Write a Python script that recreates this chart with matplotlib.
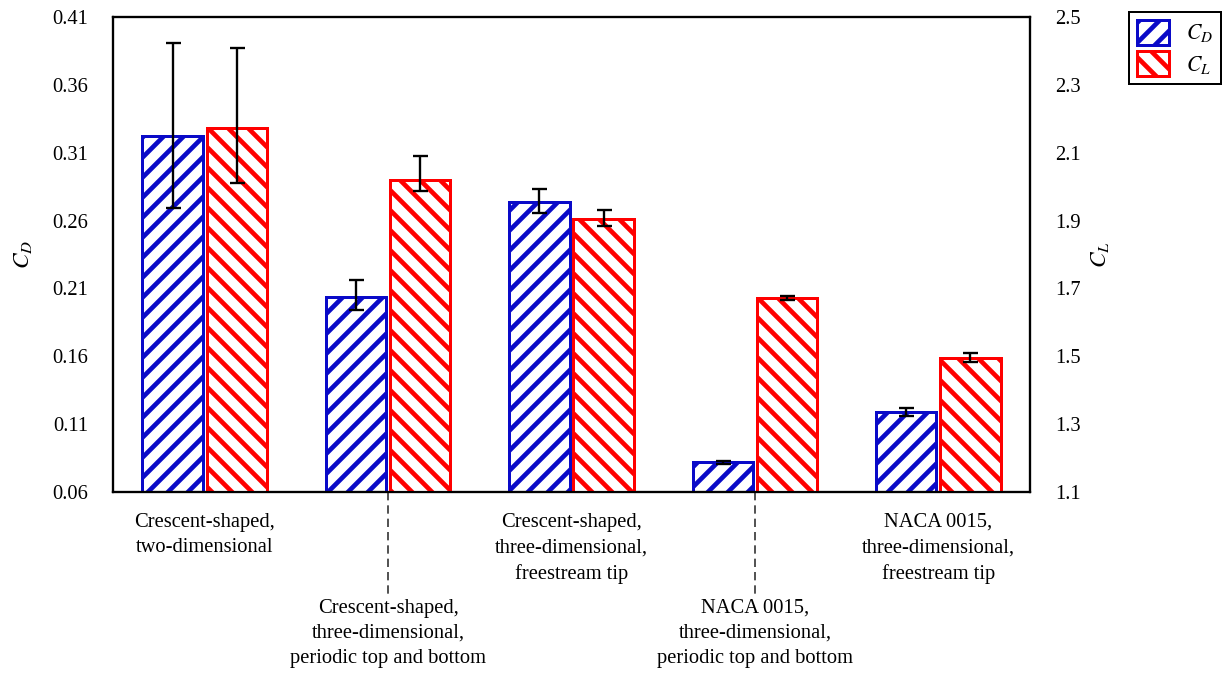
import numpy as np
import matplotlib
matplotlib.use("Agg")
import matplotlib.pyplot as plt
from matplotlib.patches import Patch
from matplotlib.transforms import blended_transform_factory

# values
cases = ["Crescent-shaped,\ntwo-dimensional",
         "Crescent-shaped,\nthree-dimensional,\nperiodic top and bottom",
         "Crescent-shaped,\nthree-dimensional,\nfreestream tip",
         "NACA 0015,\nthree-dimensional,\nperiodic top and bottom",
         "NACA 0015,\nthree-dimensional,\nfreestream tip"]
cd = [0.322, 0.204, 0.274, 0.082, 0.119]
cd_err_low = [0.053, 0.010, 0.0086, 0.001, 0.003]
cd_err_high = [0.069, 0.012, 0.0096, 0.001, 0.003]
cl = [2.173, 2.021, 1.905, 1.672, 1.495]
cl_err_low = [0.161, 0.034, 0.020, 0.005, 0.012]
cl_err_high = [0.236, 0.070, 0.027, 0.005, 0.015]

cd_ticks = [0.06, 0.11, 0.16, 0.21, 0.26, 0.31, 0.36, 0.41]
cl_ticks = [1.1, 1.3, 1.5, 1.7, 1.9, 2.1, 2.3, 2.5]

plt.rcParams["font.family"] = ["Liberation Serif", "DejaVu Serif"]
plt.rcParams["mathtext.fontset"] = "stix"
plt.rcParams["hatch.linewidth"] = 2.8
plt.rcParams["font.size"] = 12.3

blue = "#0a0ac8"
red = "#ff0000"

fig = plt.figure(figsize=(1222 / 120, 674 / 120), dpi=120)
ax = fig.add_axes([113 / 1222, 1 - 492 / 674, (1030 - 113) / 1222, (492 - 17) / 674])
ax2 = ax.twinx()

x = np.arange(len(cases))
w = 0.33
off = 0.175
ekw = dict(ecolor="black", elinewidth=1.4, capsize=4.5, capthick=1.4)

ax.bar(x - off, cd, w, facecolor="white", edgecolor=blue, hatch="//", linewidth=1.8,
       yerr=[cd_err_low, cd_err_high], error_kw=ekw)
ax2.bar(x + off, cl, w, facecolor="white", edgecolor=red, hatch="\\\\", linewidth=1.8,
        yerr=[cl_err_low, cl_err_high], error_kw=ekw)

ax.set_xlim(-0.5, 4.5)
ax.set_ylim(0.06, 0.41)
ax2.set_ylim(1.1, 2.5)
ax.set_yticks(cd_ticks)
ax.set_yticklabels(["%.2f" % t for t in cd_ticks])
ax2.set_yticks(cl_ticks)
ax2.set_yticklabels(["%.1f" % t for t in cl_ticks])
ax.set_xticks([])
ax.tick_params(axis="y", length=0, pad=15)
ax2.tick_params(axis="y", length=0, pad=15)
for a in (ax, ax2):
    for s in a.spines.values():
        s.set_linewidth(1.3)

ax.set_ylabel("$C_D$", fontsize=14, labelpad=11)
ax2.set_ylabel("$C_L$", fontsize=14, rotation=90, labelpad=5)

# category labels, staggered, with dashed leaders for the lower ones
trans = blended_transform_factory(ax.transData, ax.transAxes)
for i, name in enumerate(cases):
    if i % 2 == 0:
        ax.annotate(name, xy=(i, 0), xycoords=trans, xytext=(0, -12.5),
                    textcoords="offset points", ha="center", va="top",
                    linespacing=1.45, annotation_clip=False)
    else:
        ax.plot([i, i], [0, -0.218], transform=trans, color="#333333",
                linestyle=(0, (5, 3)), linewidth=1.0, clip_on=False)
        ax.annotate(name, xy=(i, 0), xycoords=trans, xytext=(0, -64),
                    textcoords="offset points", ha="center", va="top",
                    linespacing=1.45, annotation_clip=False)

handles = [Patch(facecolor="white", edgecolor=blue, hatch="//", linewidth=1.8),
           Patch(facecolor="white", edgecolor=red, hatch="\\\\", linewidth=1.8)]
leg = fig.legend(handles, ["$C_D$", "$C_L$"], loc="upper left",
                 bbox_to_anchor=(1129 / 1222, 1 - 12 / 674), fontsize=13,
                 fancybox=False, edgecolor="black", framealpha=1,
                 handlelength=1.5, handleheight=1.4, handletextpad=0.8,
                 borderpad=0.35, labelspacing=0.3, borderaxespad=0)
leg.get_frame().set_linewidth(1.2)

fig.savefig("out.png", dpi=120)
